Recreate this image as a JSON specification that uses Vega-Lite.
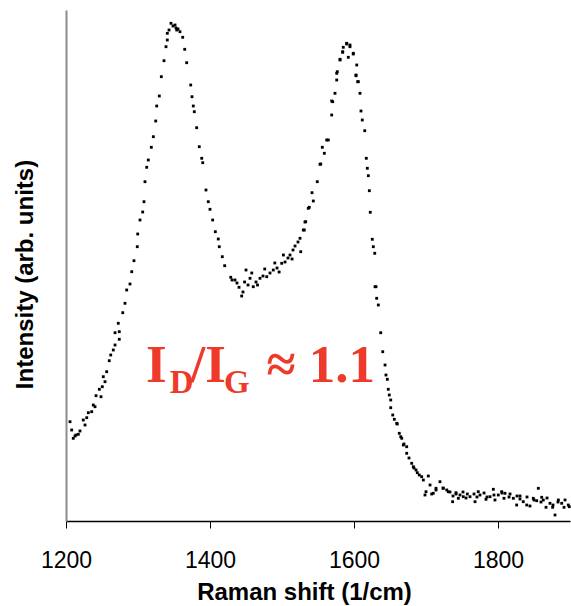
{
  "$schema": "https://vega.github.io/schema/vega-lite/v6.json",
  "autosize": {"type": "none"},
  "padding": {"left": 66, "top": 10, "right": 1, "bottom": 85},
  "width": 504,
  "height": 511,
  "background": "white",
  "config": {"view": {"stroke": null}},
  "datasets": {
    "spectrum": [
      {"shift": 1205.6, "intensity": 99.3}, {"shift": 1207.9, "intensity": 91}, {"shift": 1210.1, "intensity": 82.7}, {"shift": 1212.5, "intensity": 85},
      {"shift": 1213.9, "intensity": 86}, {"shift": 1217.1, "intensity": 86.7}, {"shift": 1219.4, "intensity": 90}, {"shift": 1224.0, "intensity": 101},
      {"shift": 1226.4, "intensity": 96}, {"shift": 1228.8, "intensity": 103.3}, {"shift": 1231.0, "intensity": 108.3}, {"shift": 1235.7, "intensity": 109.3},
      {"shift": 1237.9, "intensity": 116}, {"shift": 1240.3, "intensity": 114.3}, {"shift": 1241.7, "intensity": 125.3}, {"shift": 1246.3, "intensity": 131.7},
      {"shift": 1248.6, "intensity": 124.3}, {"shift": 1250.4, "intensity": 134.3}, {"shift": 1251.8, "intensity": 144.3}, {"shift": 1254.2, "intensity": 139.3},
      {"shift": 1256.5, "intensity": 149.3}, {"shift": 1260.1, "intensity": 160.3}, {"shift": 1262.1, "intensity": 166}, {"shift": 1265.7, "intensity": 171},
      {"shift": 1268.1, "intensity": 176}, {"shift": 1268.1, "intensity": 188.3}, {"shift": 1272.6, "intensity": 197.7}, {"shift": 1274.0, "intensity": 189.3},
      {"shift": 1274.0, "intensity": 181.7}, {"shift": 1278.8, "intensity": 208.3}, {"shift": 1281.9, "intensity": 217.7}, {"shift": 1284.3, "intensity": 231},
      {"shift": 1288.9, "intensity": 237}, {"shift": 1291.3, "intensity": 249.3}, {"shift": 1294.4, "intensity": 260.3}, {"shift": 1299.0, "intensity": 274.3},
      {"shift": 1299.6, "intensity": 287}, {"shift": 1302.8, "intensity": 301}, {"shift": 1306.5, "intensity": 309}, {"shift": 1308.3, "intensity": 319.3},
      {"shift": 1309.7, "intensity": 339.3}, {"shift": 1312.1, "intensity": 353.7}, {"shift": 1314.3, "intensity": 361}, {"shift": 1318.5, "intensity": 373.7},
      {"shift": 1321.3, "intensity": 384.3}, {"shift": 1324.6, "intensity": 400}, {"shift": 1326.0, "intensity": 415}, {"shift": 1329.6, "intensity": 425},
      {"shift": 1332.4, "intensity": 444.3}, {"shift": 1336.1, "intensity": 460.3}, {"shift": 1338.9, "intensity": 474.3}, {"shift": 1340.7, "intensity": 481},
      {"shift": 1340.7, "intensity": 487.7}, {"shift": 1343.1, "intensity": 491}, {"shift": 1345.8, "intensity": 497.7}, {"shift": 1348.6, "intensity": 495},
      {"shift": 1351.4, "intensity": 496}, {"shift": 1352.8, "intensity": 493}, {"shift": 1353.8, "intensity": 491}, {"shift": 1355.6, "intensity": 492},
      {"shift": 1358.3, "intensity": 489.3}, {"shift": 1362.1, "intensity": 483.7}, {"shift": 1364.9, "intensity": 471.7}, {"shift": 1367.6, "intensity": 458.3},
      {"shift": 1373.2, "intensity": 436}, {"shift": 1375.0, "intensity": 424.3}, {"shift": 1376.8, "intensity": 415}, {"shift": 1378.2, "intensity": 409.3},
      {"shift": 1381.5, "intensity": 393.3}, {"shift": 1385.1, "intensity": 374.3}, {"shift": 1388.5, "intensity": 362.7}, {"shift": 1389.9, "intensity": 358.3},
      {"shift": 1394.4, "intensity": 331}, {"shift": 1397.6, "intensity": 319.3}, {"shift": 1400.0, "intensity": 311.7}, {"shift": 1403.7, "intensity": 301},
      {"shift": 1407.4, "intensity": 289.3}, {"shift": 1411.5, "intensity": 282}, {"shift": 1412.9, "intensity": 274.3}, {"shift": 1417.1, "intensity": 264.3},
      {"shift": 1420.4, "intensity": 255.3}, {"shift": 1428.8, "intensity": 243.7}, {"shift": 1430.6, "intensity": 241}, {"shift": 1434.7, "intensity": 241},
      {"shift": 1437.5, "intensity": 238}, {"shift": 1440.3, "intensity": 233.7}, {"shift": 1444.0, "intensity": 225}, {"shift": 1445.8, "intensity": 229},
      {"shift": 1448.0, "intensity": 239}, {"shift": 1450.0, "intensity": 251}, {"shift": 1452.8, "intensity": 236}, {"shift": 1455.6, "intensity": 242.7},
      {"shift": 1458.0, "intensity": 248}, {"shift": 1460.1, "intensity": 234.3}, {"shift": 1463.9, "intensity": 239}, {"shift": 1466.0, "intensity": 236},
      {"shift": 1469.4, "intensity": 242.7}, {"shift": 1473.6, "intensity": 245}, {"shift": 1476.0, "intensity": 252}, {"shift": 1478.8, "intensity": 244.3},
      {"shift": 1483.3, "intensity": 248}, {"shift": 1487.9, "intensity": 251}, {"shift": 1490.0, "intensity": 258}, {"shift": 1493.1, "intensity": 253},
      {"shift": 1496.0, "intensity": 249}, {"shift": 1499.6, "intensity": 257.7}, {"shift": 1502.0, "intensity": 266}, {"shift": 1504.2, "intensity": 259},
      {"shift": 1508.3, "intensity": 263}, {"shift": 1511.1, "intensity": 266}, {"shift": 1514.0, "intensity": 262}, {"shift": 1515.3, "intensity": 271},
      {"shift": 1518.1, "intensity": 275}, {"shift": 1522.2, "intensity": 279}, {"shift": 1525.0, "intensity": 282.7}, {"shift": 1526.0, "intensity": 269.3},
      {"shift": 1529.6, "intensity": 291}, {"shift": 1531.0, "intensity": 291}, {"shift": 1531.9, "intensity": 299}, {"shift": 1532.9, "intensity": 299.3},
      {"shift": 1536.5, "intensity": 312.7}, {"shift": 1537.9, "intensity": 313.7}, {"shift": 1541.7, "intensity": 328.3}, {"shift": 1543.5, "intensity": 320},
      {"shift": 1549.0, "intensity": 339.3}, {"shift": 1552.8, "intensity": 356.7}, {"shift": 1553.8, "intensity": 357}, {"shift": 1556.0, "intensity": 373.7},
      {"shift": 1558.8, "intensity": 367.7}, {"shift": 1562.1, "intensity": 381}, {"shift": 1564.3, "intensity": 381}, {"shift": 1569.0, "intensity": 406},
      {"shift": 1569.0, "intensity": 420}, {"shift": 1570.4, "intensity": 419.3}, {"shift": 1573.6, "intensity": 427.7}, {"shift": 1576.0, "intensity": 441},
      {"shift": 1576.0, "intensity": 447.7}, {"shift": 1576.8, "intensity": 449.3}, {"shift": 1580.6, "intensity": 461}, {"shift": 1580.6, "intensity": 461.7},
      {"shift": 1584.3, "intensity": 469.3}, {"shift": 1584.3, "intensity": 468.7}, {"shift": 1585.1, "intensity": 473.7}, {"shift": 1589.9, "intensity": 477},
      {"shift": 1589.9, "intensity": 477.7}, {"shift": 1592.1, "intensity": 463.7}, {"shift": 1594.4, "intensity": 476}, {"shift": 1594.4, "intensity": 474.3},
      {"shift": 1599.0, "intensity": 467.7}, {"shift": 1599.0, "intensity": 467}, {"shift": 1602.8, "intensity": 446}, {"shift": 1602.8, "intensity": 445.3},
      {"shift": 1603.8, "intensity": 456}, {"shift": 1605.1, "intensity": 439.3}, {"shift": 1606.0, "intensity": 439.3}, {"shift": 1608.3, "intensity": 427.7},
      {"shift": 1609.7, "intensity": 410}, {"shift": 1611.5, "intensity": 401}, {"shift": 1614.9, "intensity": 390.3}, {"shift": 1617.1, "intensity": 362.7},
      {"shift": 1618.5, "intensity": 352.7}, {"shift": 1619.9, "intensity": 345.3}, {"shift": 1621.3, "intensity": 330.3}, {"shift": 1622.6, "intensity": 308.7},
      {"shift": 1625.4, "intensity": 281.7}, {"shift": 1626.8, "intensity": 274.3}, {"shift": 1628.8, "intensity": 267.7}, {"shift": 1629.2, "intensity": 234.3},
      {"shift": 1630.6, "intensity": 234.3}, {"shift": 1631.5, "intensity": 222.7}, {"shift": 1633.8, "intensity": 216}, {"shift": 1637.1, "intensity": 188.3},
      {"shift": 1639.9, "intensity": 169.3}, {"shift": 1643.1, "intensity": 156}, {"shift": 1644.4, "intensity": 146}, {"shift": 1646.3, "intensity": 141.7},
      {"shift": 1647.6, "intensity": 131.7}, {"shift": 1649.0, "intensity": 126}, {"shift": 1651.0, "intensity": 121}, {"shift": 1651.0, "intensity": 113.3},
      {"shift": 1653.8, "intensity": 106}, {"shift": 1656.0, "intensity": 101.7}, {"shift": 1659.3, "intensity": 97.7}, {"shift": 1660.1, "intensity": 97},
      {"shift": 1662.9, "intensity": 87.7}, {"shift": 1664.9, "intensity": 84.3}, {"shift": 1666.3, "intensity": 82.7}, {"shift": 1668.5, "intensity": 76},
      {"shift": 1669.4, "intensity": 77}, {"shift": 1673.2, "intensity": 74.3}, {"shift": 1673.2, "intensity": 67.7}, {"shift": 1676.4, "intensity": 63},
      {"shift": 1680.1, "intensity": 57.7}, {"shift": 1682.4, "intensity": 54.3}, {"shift": 1683.3, "intensity": 53}, {"shift": 1686.1, "intensity": 51},
      {"shift": 1687.9, "intensity": 48.3}, {"shift": 1690.7, "intensity": 46}, {"shift": 1694.0, "intensity": 44.3}, {"shift": 1696.3, "intensity": 41},
      {"shift": 1698.6, "intensity": 26}, {"shift": 1700.0, "intensity": 29.3}, {"shift": 1703.2, "intensity": 45}, {"shift": 1705.6, "intensity": 36},
      {"shift": 1707.9, "intensity": 27}, {"shift": 1710.1, "intensity": 27.7}, {"shift": 1713.9, "intensity": 31}, {"shift": 1713.9, "intensity": 32.7},
      {"shift": 1719.4, "intensity": 39.3}, {"shift": 1723.6, "intensity": 33}, {"shift": 1724.0, "intensity": 32.7}, {"shift": 1728.8, "intensity": 31},
      {"shift": 1731.0, "intensity": 29.3}, {"shift": 1733.3, "intensity": 29}, {"shift": 1737.0, "intensity": 19.3}, {"shift": 1737.5, "intensity": 25},
      {"shift": 1741.7, "intensity": 27}, {"shift": 1741.7, "intensity": 28.3}, {"shift": 1744.9, "intensity": 22.7}, {"shift": 1747.2, "intensity": 26},
      {"shift": 1751.4, "intensity": 29}, {"shift": 1751.8, "intensity": 24.3}, {"shift": 1755.6, "intensity": 23}, {"shift": 1757.4, "intensity": 27},
      {"shift": 1761.1, "intensity": 24.3}, {"shift": 1766.7, "intensity": 27}, {"shift": 1768.1, "intensity": 19.3}, {"shift": 1770.8, "intensity": 24},
      {"shift": 1772.6, "intensity": 29.3}, {"shift": 1775.0, "intensity": 26}, {"shift": 1780.6, "intensity": 28}, {"shift": 1783.3, "intensity": 21.7},
      {"shift": 1784.7, "intensity": 24}, {"shift": 1788.9, "intensity": 24.3}, {"shift": 1793.5, "intensity": 31.7}, {"shift": 1794.4, "intensity": 26},
      {"shift": 1795.8, "intensity": 21}, {"shift": 1800.4, "intensity": 26}, {"shift": 1805.1, "intensity": 29.3}, {"shift": 1805.6, "intensity": 28},
      {"shift": 1808.3, "intensity": 22.7}, {"shift": 1809.7, "intensity": 27.7}, {"shift": 1815.3, "intensity": 24}, {"shift": 1816.7, "intensity": 27},
      {"shift": 1821.3, "intensity": 22.7}, {"shift": 1825.9, "intensity": 16}, {"shift": 1826.4, "intensity": 25}, {"shift": 1830.6, "intensity": 22},
      {"shift": 1830.6, "intensity": 25}, {"shift": 1835.1, "intensity": 19.3}, {"shift": 1839.9, "intensity": 16}, {"shift": 1840.3, "intensity": 24},
      {"shift": 1844.4, "intensity": 15}, {"shift": 1849.0, "intensity": 22.7}, {"shift": 1850.0, "intensity": 21}, {"shift": 1853.7, "intensity": 20.3},
      {"shift": 1856.0, "intensity": 32.7}, {"shift": 1859.7, "intensity": 19}, {"shift": 1860.7, "intensity": 23.7}, {"shift": 1862.9, "intensity": 21},
      {"shift": 1866.7, "intensity": 13.7}, {"shift": 1868.1, "intensity": 23}, {"shift": 1872.2, "intensity": 17.7}, {"shift": 1875.9, "intensity": 13.7},
      {"shift": 1876.4, "intensity": 16}, {"shift": 1879.2, "intensity": 6}, {"shift": 1883.3, "intensity": 19}, {"shift": 1883.8, "intensity": 21},
      {"shift": 1888.5, "intensity": 17.7}, {"shift": 1891.7, "intensity": 13.7}, {"shift": 1893.1, "intensity": 21}, {"shift": 1897.6, "intensity": 16},
      {"shift": 1899.0, "intensity": 14.3}
    ],
    "mainText": [
      {"shift": 1311, "intensity": 138.7, "label": "I"},
      {"shift": 1373, "intensity": 138.7, "label": "/I"},
      {"shift": 1478.3, "intensity": 138.7, "label": "≈ 1.1"}
    ],
    "subText": [
      {"shift": 1344, "intensity": 127.7, "label": "D"},
      {"shift": 1419.4, "intensity": 127.7, "label": "G"}
    ]
  },
  "layer": [
    {
      "data": {"name": "spectrum"},
      "mark": {"type": "square", "size": 8, "color": "#000000", "opacity": 1},
      "encoding": {
        "x": {
          "field": "shift", "type": "quantitative",
          "scale": {"domain": [1200, 1900], "nice": false, "zero": false},
          "axis": {
            "title": "Raman shift (1/cm)",
            "values": [1200, 1400, 1600, 1800],
            "format": "d",
            "grid": false,
            "labelFlush": false,
            "labelOverlap": false,
            "domainColor": "#000000", "domainWidth": 1.5,
            "tickColor": "#000000", "tickSize": 7, "tickWidth": 1,
            "labelFont": "Liberation Sans", "labelFontSize": 23, "labelColor": "#000000",
            "labelBaseline": "alphabetic", "labelPadding": 39,
            "titleFont": "Liberation Sans", "titleFontSize": 24, "titleFontWeight": "bold", "titleColor": "#000000",
            "titleBaseline": "alphabetic", "titleX": 238, "titleY": 78
          }
        },
        "y": {
          "field": "intensity", "type": "quantitative",
          "scale": {"domain": [0, 511], "nice": false, "zero": false},
          "axis": {
            "title": "Intensity (arb. units)",
            "grid": false, "ticks": false, "labels": false,
            "domainColor": "#8c8c8c", "domainWidth": 2,
            "titleFont": "Liberation Sans", "titleFontSize": 24, "titleFontWeight": "bold", "titleColor": "#000000",
            "titleBaseline": "middle", "titleX": -41, "titleY": 264
          }
        }
      }
    },
    {
      "data": {"name": "mainText"},
      "mark": {"type": "text", "font": "Liberation Serif", "fontWeight": "bold", "fontSize": 53, "color": "#ee3a2b", "align": "left", "baseline": "alphabetic"},
      "encoding": {
        "x": {"field": "shift", "type": "quantitative"},
        "y": {"field": "intensity", "type": "quantitative"},
        "text": {"field": "label"}
      }
    },
    {
      "data": {"name": "subText"},
      "mark": {"type": "text", "font": "Liberation Serif", "fontWeight": "bold", "fontSize": 33, "color": "#ee3a2b", "align": "left", "baseline": "alphabetic"},
      "encoding": {
        "x": {"field": "shift", "type": "quantitative"},
        "y": {"field": "intensity", "type": "quantitative"},
        "text": {"field": "label"}
      }
    }
  ]
}
